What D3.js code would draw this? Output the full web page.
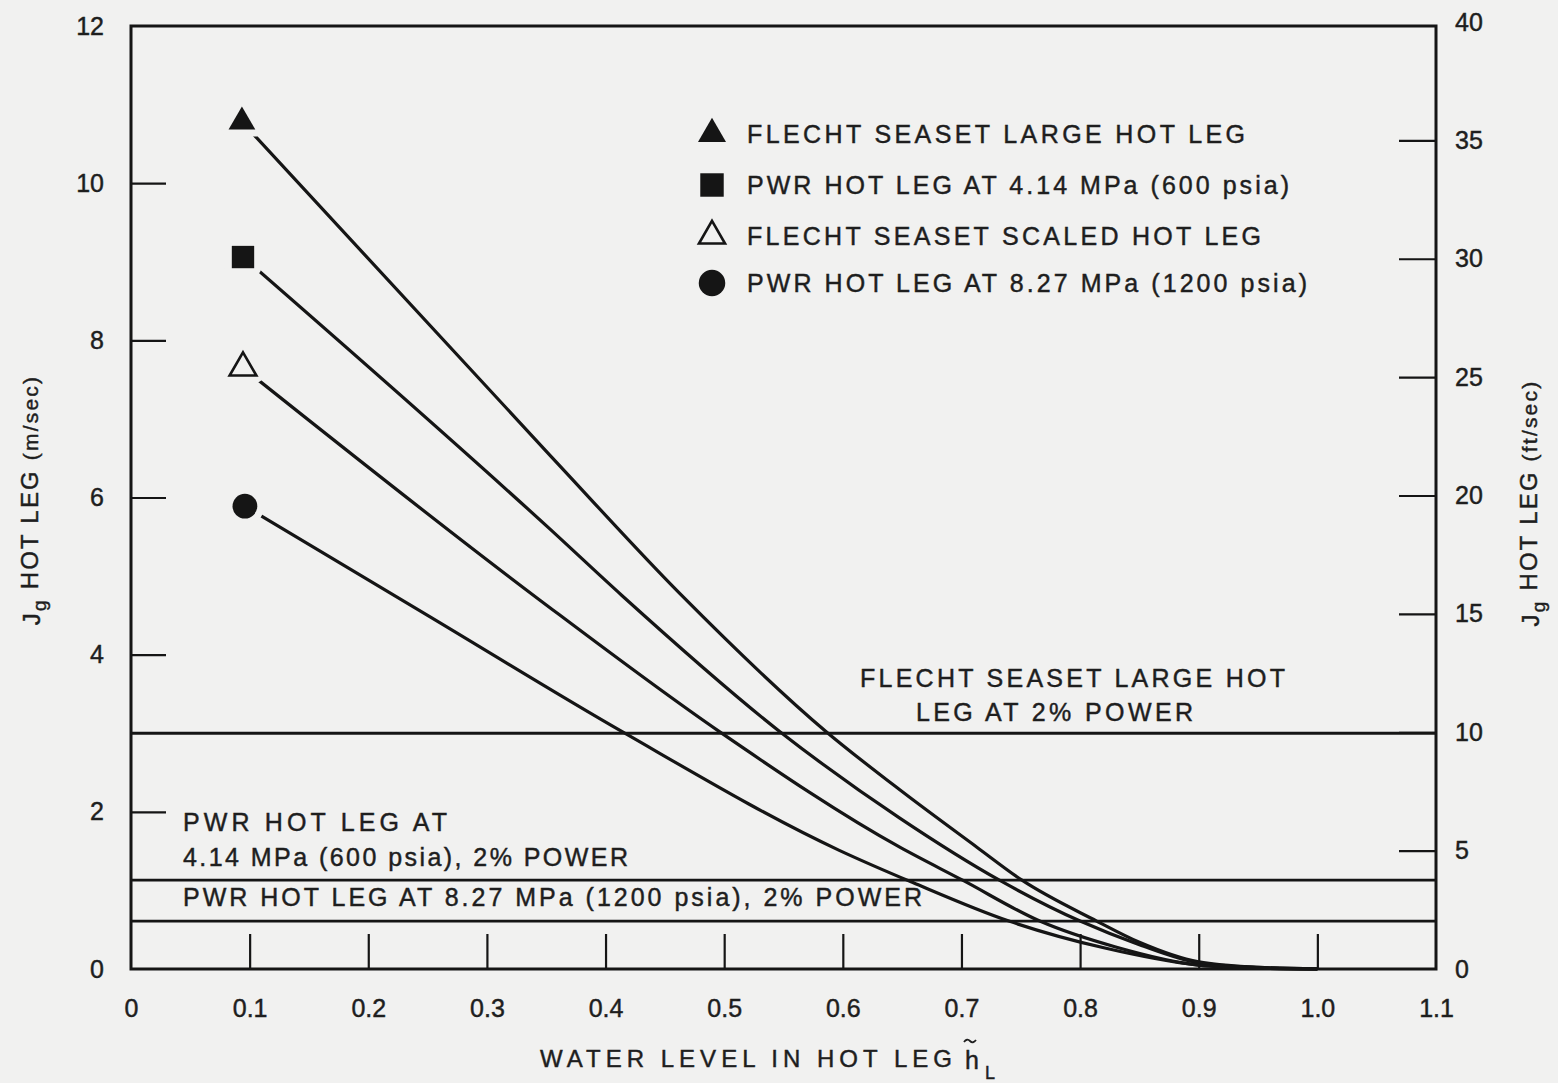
<!DOCTYPE html>
<html>
<head>
<meta charset="utf-8">
<script src="https://cdn.jsdelivr.net/npm/d3@7"></script>
<style>
  body { margin: 0; background: #f1f1f0; }
  svg { display: block; }
  text { font-family: "Liberation Sans", Arial, Helvetica, sans-serif; fill: #1e1e1e;
         stroke: #1e1e1e; stroke-width: 0.45px; }
</style>
</head>
<body>
<svg id="chart" width="1558" height="1083"></svg>
<script>
// ---------------- DATA ----------------
const xTickValues = [0, 0.1, 0.2, 0.3, 0.4, 0.5, 0.6, 0.7, 0.8, 0.9, 1.0, 1.1];
const xTickLabels = ["0", "0.1", "0.2", "0.3", "0.4", "0.5", "0.6", "0.7", "0.8", "0.9", "1.0", "1.1"];
const yLeftTickValues = [0, 2, 4, 6, 8, 10, 12];
const yRightTickValues = [0, 5, 10, 15, 20, 25, 30, 35, 40];

const seriesNames = [
  "FLECHT SEASET LARGE HOT LEG",
  "PWR HOT LEG AT 4.14 MPa (600 psia)",
  "FLECHT SEASET SCALED HOT LEG",
  "PWR HOT LEG AT 8.27 MPa (1200 psia)"
];
const seriesSymbols = ["triangle", "square", "triangleOpen", "circle"];

// water level (x) and Jg (m/sec)
const largeX   = [0.0935, 0.353, 0.4625, 0.586, 0.648, 0.713, 0.751, 0.814, 0.85, 0.90, 0.95, 1.0];
const largeY   = [10.78, 6.54, 4.78, 3.02, 2.28, 1.55, 1.13, 0.61, 0.34, 0.09, 0.02, 0.0];
const pwr600X  = [0.0944, 0.353, 0.414, 0.547, 0.648, 0.732, 0.80, 0.85, 0.90, 0.95, 1.0];
const pwr600Y  = [9.06, 5.60, 4.75, 3.02, 1.92, 1.13, 0.61, 0.31, 0.08, 0.02, 0.0];
const scaledX  = [0.0944, 0.345, 0.496, 0.648, 0.701, 0.766, 0.83, 0.90, 0.95, 1.0];
const scaledY  = [7.65, 4.69, 3.02, 1.55, 1.13, 0.61, 0.28, 0.05, 0.013, 0.0];
const pwr1200X = [0.096, 0.25, 0.414, 0.597, 0.659, 0.740, 0.82, 0.90, 0.95, 1.0];
const pwr1200Y = [5.89, 4.50, 3.02, 1.51, 1.10, 0.61, 0.27, 0.05, 0.012, 0.0];

// 2% power reference levels (m/sec)
const refLevelNames = ["FLECHT SEASET LARGE HOT LEG AT 2% POWER",
                       "PWR HOT LEG AT 4.14 MPa (600 psia), 2% POWER",
                       "PWR HOT LEG AT 8.27 MPa (1200 psia), 2% POWER"];
const refLevelValues = [3.0, 1.13, 0.61];

// ---------------- LAYOUT ----------------
const W = 1558, H = 1083;
const plot = { left: 131, right: 1436, top: 26, bottom: 969 };
const ink = "#151515";
const bg = "#f1f1f0";

const svg = d3.select("#chart");
svg.append("rect").attr("width", W).attr("height", H).attr("fill", bg);

const x = d3.scaleLinear().domain([0, 1.1]).range([plot.left, plot.right]);
const y = d3.scaleLinear().domain([0, 12]).range([plot.bottom, plot.top]);
const yR = d3.scaleLinear().domain([0, 40]).range([plot.bottom, 22]);

// ---------------- AXES ----------------
const tickFont = "25px";
function styleAxis(g, hideVals) {
  g.select(".domain").remove();
  g.selectAll(".tick line").attr("stroke", ink).attr("stroke-width", 2.2)
    .attr("display", d => hideVals.includes(d) ? "none" : null);
  g.selectAll("text").style("font-size", tickFont).attr("fill", "#1e1e1e");
}

const gx = svg.append("g").attr("transform", `translate(0,${plot.bottom})`)
  .call(d3.axisBottom(x).tickValues(xTickValues)
        .tickFormat((d, i) => xTickLabels[i])
        .tickSizeInner(-35).tickSizeOuter(0).tickPadding(30));
styleAxis(gx, [0, 1.1]);

const gl = svg.append("g").attr("transform", `translate(${plot.left},0)`)
  .call(d3.axisLeft(y).tickValues(yLeftTickValues).tickFormat(d3.format("d"))
        .tickSizeInner(-35).tickSizeOuter(0).tickPadding(27));
styleAxis(gl, [0, 12]);

const gr = svg.append("g").attr("transform", `translate(${plot.right},0)`)
  .call(d3.axisRight(yR).tickValues(yRightTickValues).tickFormat(d3.format("d"))
        .tickSizeInner(-37).tickSizeOuter(0).tickPadding(19));
styleAxis(gr, [0, 40]);

// frame
svg.append("rect")
  .attr("x", plot.left).attr("y", plot.top)
  .attr("width", plot.right - plot.left).attr("height", plot.bottom - plot.top)
  .attr("fill", "none").attr("stroke", ink).attr("stroke-width", 3);

// ---------------- REFERENCE LINES ----------------
svg.append("g").selectAll("line").data(refLevelValues).join("line")
  .attr("x1", plot.left).attr("x2", plot.right)
  .attr("y1", d => y(d)).attr("y2", d => y(d))
  .attr("stroke", ink).attr("stroke-width", 2.8);

// ---------------- CURVES ----------------
const series = [
  { xs: largeX, ys: largeY },
  { xs: pwr600X, ys: pwr600Y },
  { xs: scaledX, ys: scaledY },
  { xs: pwr1200X, ys: pwr1200Y }
].map((s, i) => ({ name: seriesNames[i], symbol: seriesSymbols[i],
                   pts: s.xs.map((v, j) => [v, s.ys[j]]) }));

const line = d3.line().x(d => x(d[0])).y(d => y(d[1])).curve(d3.curveMonotoneX);
svg.append("g").selectAll("path").data(series).join("path")
  .attr("d", d => line(d.pts))
  .attr("fill", "none").attr("stroke", ink).attr("stroke-width", 3.2)
  .attr("stroke-linejoin", "round");

// ---------------- MARKERS ----------------
function symbolPath(kind, scale) {
  const s = scale || 1;
  if (kind === "square") return d3.symbol(d3.symbolSquare, 500 * s)();
  if (kind === "circle") return d3.symbol(d3.symbolCircle, 480 * s)();
  return d3.symbol(d3.symbolTriangle, 310 * s)();
}
function drawMarker(g, kind, cx, cy, scale) {
  const grp = g.append("g").attr("transform", `translate(${cx},${cy})`);
  grp.append("path").attr("d", symbolPath(kind, scale))
    .attr("fill", bg).attr("stroke", bg).attr("stroke-width", 14).attr("stroke-linejoin", "round");
  if (kind === "triangleOpen") {
    grp.append("path").attr("d", symbolPath(kind, scale))
      .attr("fill", bg).attr("stroke", ink).attr("stroke-width", 2.6);
  } else {
    grp.append("path").attr("d", symbolPath(kind, scale)).attr("fill", ink);
  }
}
const mg = svg.append("g");
series.forEach(s => drawMarker(mg, s.symbol, x(s.pts[0][0]), y(s.pts[0][1]), 1));

// ---------------- LEGEND ----------------
const legend = { markerX: 712, textX: 747, rowY: [134, 185, 236, 283],
                 widths: [498, 542, 514, 560] };
const lg = svg.append("g");
series.forEach((s, i) => {
  const grp = lg.append("g").attr("transform", `translate(${legend.markerX},${legend.rowY[i]})`);
  if (s.symbol === "triangleOpen") {
    grp.append("path").attr("d", symbolPath(s.symbol, 0.95)).attr("fill", "none")
      .attr("stroke", ink).attr("stroke-width", 2.6);
  } else {
    grp.append("path").attr("d", symbolPath(s.symbol, s.symbol === "circle" ? 1.15 : 1.1)).attr("fill", ink);
  }
  lg.append("text").attr("x", legend.textX).attr("y", legend.rowY[i])
    .attr("dy", "0.36em").style("font-size", "25px")
    .attr("textLength", legend.widths[i]).attr("lengthAdjust", "spacing")
    .text(s.name);
});

// ---------------- ANNOTATIONS ----------------
const notes = [
  { t: "FLECHT SEASET LARGE HOT", x: 860, y: 678, w: 425 },
  { t: "LEG AT 2% POWER", x: 916, y: 712, w: 277 },
  { t: "PWR HOT LEG AT", x: 183, y: 822, w: 264 },
  { t: "4.14 MPa (600 psia), 2% POWER", x: 183, y: 857, w: 445 },
  { t: "PWR HOT LEG AT 8.27 MPa (1200 psia), 2% POWER", x: 183, y: 897, w: 739 }
];
svg.append("g").selectAll("text").data(notes).join("text")
  .attr("x", d => d.x).attr("y", d => d.y).attr("dy", "0.36em")
  .style("font-size", "25px")
  .attr("textLength", d => d.w).attr("lengthAdjust", "spacing")
  .text(d => d.t);

// ---------------- AXIS TITLES ----------------
const xt = svg.append("g");
xt.append("text").attr("x", 540).attr("y", 1058).attr("dy", "0.36em")
  .style("font-size", "24px").attr("textLength", 412).attr("lengthAdjust", "spacing")
  .text("WATER LEVEL IN HOT LEG");
xt.append("text").attr("x", 965).attr("y", 1060).attr("dy", "0.36em")
  .style("font-size", "25px").text("h");
// tilde over the h
xt.append("path").attr("d", "M964,1042 q3,-4 6,-1 t6,-1")
  .attr("fill", "none").attr("stroke", "#1e1e1e").attr("stroke-width", 1.8);
xt.append("text").attr("x", 985).attr("y", 1073).attr("dy", "0.36em")
  .style("font-size", "18px").text("L");

function yTitle(cx, cy, unit) {
  const t = svg.append("text")
    .attr("transform", `translate(${cx},${cy}) rotate(-90)`)
    .attr("text-anchor", "middle").attr("dy", "0.36em")
    .style("font-size", "24px").style("letter-spacing", "2.2px");
  t.append("tspan").text("J");
  t.append("tspan").attr("dy", "0.35em").style("font-size", "19px").text("g");
  t.append("tspan").attr("dy", "-0.35em").text(" HOT LEG  ");
  t.append("tspan").style("font-size", "21px").text(unit);
}
yTitle(31, 500, "(m/sec)");
yTitle(1530, 503, "(ft/sec)");
</script>
</body>
</html>
